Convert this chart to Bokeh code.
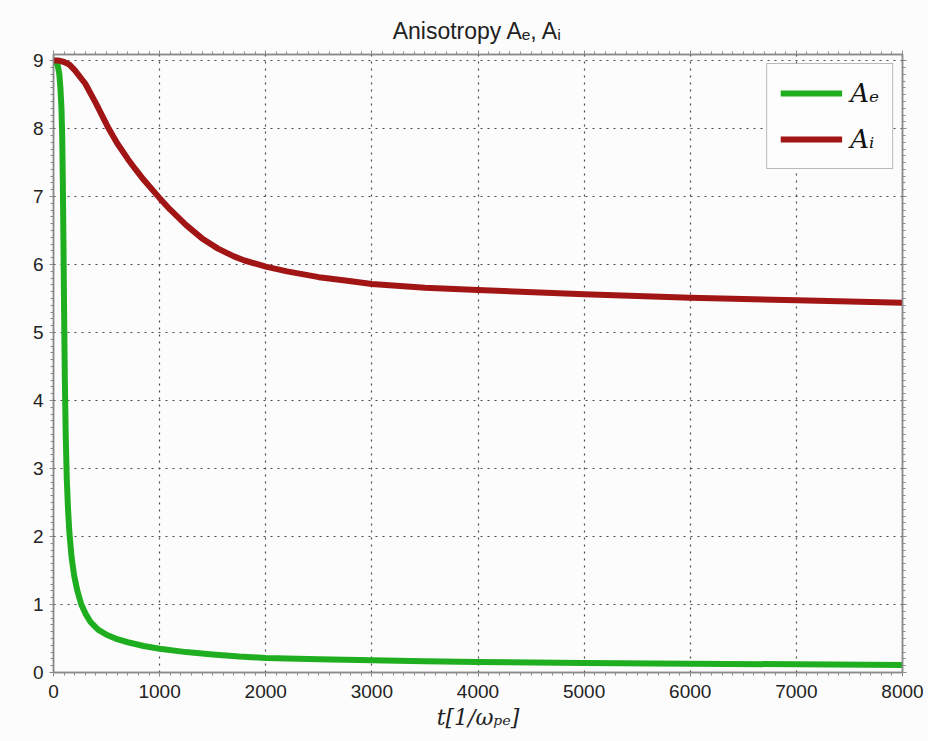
from bokeh.plotting import figure
from bokeh.models import Range1d, LinearAxis, Legend, LegendItem, FixedTicker
from bokeh.embed import file_html
from bokeh.resources import INLINE

# Time samples [1/omega_pe] and anisotropy of electrons (A_e)
t_e = [0, 20, 40, 55, 65, 75, 82, 88, 94, 100, 107, 115, 125, 137, 150, 170,
       195, 225, 262, 300, 350, 420, 500, 600, 700, 850, 1000, 1250, 1500,
       1750, 2000, 2500, 3000, 3500, 4000, 5000, 6000, 7000, 8000]
a_e = [9.0, 8.98, 8.93, 8.8, 8.6, 8.3, 7.9, 7.2, 6.3, 5.3, 4.3, 3.5, 2.85,
       2.4, 2.05, 1.7, 1.42, 1.2, 1.0, 0.87, 0.74, 0.63, 0.555, 0.49, 0.445,
       0.39, 0.35, 0.3, 0.265, 0.235, 0.215, 0.195, 0.18, 0.165, 0.155, 0.14,
       0.13, 0.12, 0.11]

# Anisotropy of ions (A_i)
t_i = [0, 50, 100, 150, 200, 300, 400, 520, 600, 700, 770, 850, 1000, 1100,
       1250, 1400, 1550, 1700, 1800, 2000, 2200, 2500, 2750, 3000, 3500,
       4000, 5000, 6000, 7000, 8000]
a_i = [9.0, 9.0, 8.98, 8.94, 8.86, 8.66, 8.37, 8.0, 7.784, 7.554, 7.407,
       7.247, 6.977, 6.807, 6.58, 6.385, 6.235, 6.12, 6.06, 5.97, 5.9, 5.815,
       5.765, 5.715, 5.66, 5.625, 5.565, 5.512, 5.474, 5.44]

x_ticks = [0, 1000, 2000, 3000, 4000, 5000, 6000, 7000, 8000]
y_ticks = [0, 1, 2, 3, 4, 5, 6, 7, 8, 9]
x_minor = list(range(0, 8001, 100))
y_minor = [k / 10 for k in range(0, 91)]

GREEN = "#1fae1f"
RED = "#a11515"
BG = "#fcfcfc"
AXIS = "#8a8a8a"
TICK_FONT = "Liberation Sans"

p = figure(width=928, height=741, output_backend="svg", toolbar_location=None,
           x_range=Range1d(0, 8000), y_range=Range1d(0, 9.09),
           background_fill_color=BG, border_fill_color=BG,
           min_border_left=53, min_border_right=26,
           min_border_top=54, min_border_bottom=69)

p.title.text = "Anisotropy Aₑ, Aᵢ"
p.title.align = "center"
p.title.text_font = TICK_FONT
p.title.text_font_style = "normal"
p.title.text_font_size = "23px"
p.title.text_color = "#222222"
p.title.standoff = 14

p.outline_line_color = AXIS
p.outline_line_width = 1.5

xt = FixedTicker(ticks=x_ticks, minor_ticks=x_minor)
yt = FixedTicker(ticks=y_ticks, minor_ticks=y_minor)

# Main axes
for ax, tk in ((p.xaxis[0], xt), (p.yaxis[0], yt)):
    ax.ticker = tk
    ax.axis_line_color = AXIS
    ax.axis_line_width = 1.5
    ax.major_tick_line_color = AXIS
    ax.minor_tick_line_color = AXIS
    ax.major_tick_out = 4
    ax.major_tick_in = 0
    ax.minor_tick_out = 3
    ax.minor_tick_in = 0
    ax.major_label_text_font = TICK_FONT
    ax.major_label_text_font_size = "19px"
    ax.major_label_text_color = "#222222"

p.xaxis.major_label_standoff = 8
p.yaxis.major_label_standoff = 6

p.xaxis.axis_label = "t[1/ωₚₑ]"
p.xaxis.axis_label_text_font = "DejaVu Serif"
p.xaxis.axis_label_text_font_style = "italic"
p.xaxis.axis_label_text_font_size = "22px"
p.xaxis.axis_label_text_color = "#222222"
p.xaxis.axis_label_standoff = 4

# Unlabelled mirror axes on the right and top (ticks only)
for side, tk in (("right", yt), ("above", xt)):
    ax = LinearAxis(ticker=tk,
                    axis_line_color=AXIS, axis_line_width=1.5,
                    major_tick_line_color=AXIS, minor_tick_line_color=AXIS,
                    major_tick_out=4, major_tick_in=0,
                    minor_tick_out=3, minor_tick_in=0,
                    major_label_text_color=None,
                    major_label_text_font_size="6px",
                    major_label_standoff=0)
    p.add_layout(ax, side)

# Dotted grid
for g, tk in ((p.xgrid[0], xt), (p.ygrid[0], yt)):
    g.ticker = tk
    g.grid_line_color = "#4a4a4a"
    g.grid_line_dash = "2 5"
    g.grid_line_width = 1.2

r_e = p.line(t_e, a_e, line_color=GREEN, line_width=6, line_join="round")
r_i = p.line(t_i, a_i, line_color=RED, line_width=6, line_join="round")

legend = Legend(items=[LegendItem(label="Aₑ", renderers=[r_e]),
                       LegendItem(label="Aᵢ", renderers=[r_i])],
                location="top_right", margin=9, padding=13, spacing=14,
                glyph_width=62, glyph_height=32, label_height=32,
                label_standoff=8,
                label_text_font="DejaVu Serif", label_text_font_style="italic",
                label_text_font_size="26px", label_text_color="#111111",
                border_line_color="#777777", border_line_width=1.2,
                background_fill_color="#fdfdfd", background_fill_alpha=1.0)
p.add_layout(legend)

open("out.html", "w").write(file_html(p, INLINE))
